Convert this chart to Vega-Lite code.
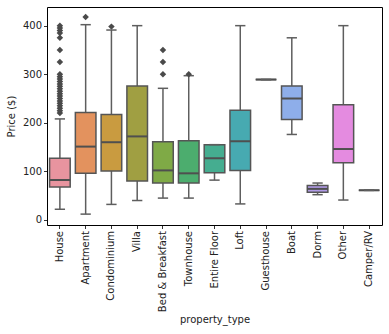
{
  "$schema": "https://vega.github.io/schema/vega-lite/v6.json",
  "width": 335,
  "height": 218,
  "autosize": {"type": "none"},
  "padding": {"left": 47, "top": 7, "right": 7, "bottom": 109},
  "background": "white",
  "config": {
    "view": {"stroke": "#000000", "strokeWidth": 1},
    "axis": {
      "labelFont": "DejaVu Sans", "labelFontSize": 10, "labelColor": "#222222",
      "titleFont": "DejaVu Sans", "titleFontSize": 10, "titleFontWeight": "normal", "titleColor": "#222222",
      "domain": false, "grid": false, "tickColor": "#000000", "tickSize": 3.5, "tickWidth": 0.8, "labelPadding": 2
    }
  },
  "datasets": {
    "boxes": [
      {"property_type": "House", "lower": 22, "q1": 68, "median": 82, "q3": 127, "upper": 208},
      {"property_type": "Apartment", "lower": 12, "q1": 96, "median": 151, "q3": 221, "upper": 402},
      {"property_type": "Condominium", "lower": 32, "q1": 101, "median": 160, "q3": 217, "upper": 391},
      {"property_type": "Villa", "lower": 40, "q1": 80, "median": 172, "q3": 276, "upper": 400},
      {"property_type": "Bed & Breakfast", "lower": 45, "q1": 76, "median": 102, "q3": 161, "upper": 271},
      {"property_type": "Townhouse", "lower": 45, "q1": 76, "median": 96, "q3": 163, "upper": 297},
      {"property_type": "Entire Floor", "lower": 82, "q1": 97, "median": 127, "q3": 155, "upper": 155},
      {"property_type": "Loft", "lower": 33, "q1": 102, "median": 162, "q3": 226, "upper": 400},
      {"property_type": "Guesthouse", "lower": 289, "q1": 289, "median": 289, "q3": 289, "upper": 289},
      {"property_type": "Boat", "lower": 176, "q1": 207, "median": 250, "q3": 276, "upper": 375},
      {"property_type": "Dorm", "lower": 52, "q1": 57, "median": 64, "q3": 71, "upper": 76},
      {"property_type": "Other", "lower": 41, "q1": 118, "median": 146, "q3": 237, "upper": 400},
      {"property_type": "Camper/RV", "lower": 61, "q1": 61, "median": 61, "q3": 61, "upper": 61}
    ],
    "outliers": [
      {"property_type": "House", "price": 220},
      {"property_type": "House", "price": 225},
      {"property_type": "House", "price": 230},
      {"property_type": "House", "price": 235},
      {"property_type": "House", "price": 240},
      {"property_type": "House", "price": 245},
      {"property_type": "House", "price": 250},
      {"property_type": "House", "price": 255},
      {"property_type": "House", "price": 260},
      {"property_type": "House", "price": 265},
      {"property_type": "House", "price": 270},
      {"property_type": "House", "price": 275},
      {"property_type": "House", "price": 280},
      {"property_type": "House", "price": 285},
      {"property_type": "House", "price": 290},
      {"property_type": "House", "price": 295},
      {"property_type": "House", "price": 300},
      {"property_type": "House", "price": 325},
      {"property_type": "House", "price": 350},
      {"property_type": "House", "price": 375},
      {"property_type": "House", "price": 385},
      {"property_type": "House", "price": 390},
      {"property_type": "House", "price": 395},
      {"property_type": "House", "price": 400},
      {"property_type": "Apartment", "price": 418},
      {"property_type": "Condominium", "price": 398},
      {"property_type": "Bed & Breakfast", "price": 300},
      {"property_type": "Bed & Breakfast", "price": 325},
      {"property_type": "Bed & Breakfast", "price": 350},
      {"property_type": "Townhouse", "price": 300}
    ]
  },
  "encoding": {
    "x": {
      "field": "property_type", "type": "nominal", "title": "property_type",
      "sort": ["House", "Apartment", "Condominium", "Villa", "Bed & Breakfast", "Townhouse", "Entire Floor", "Loft", "Guesthouse", "Boat", "Dorm", "Other", "Camper/RV"],
      "scale": {"paddingInner": 0, "paddingOuter": 0},
      "axis": {"labelAngle": -90, "titleY": 89, "titlePadding": 4}
    }
  },
  "layer": [
    {
      "data": {"name": "boxes"},
      "mark": {"type": "rule", "color": "#5e5e5e", "strokeWidth": 1.5},
      "encoding": {
        "y": {"field": "lower", "type": "quantitative", "title": "Price ($)",
          "scale": {"domain": [-10.4, 438.4], "nice": false, "zero": false},
          "axis": {"values": [0, 50, 100, 150, 200, 250, 300, 350, 400], "titlePadding": 6}},
        "y2": {"field": "upper"}
      }
    },
    {
      "data": {"name": "boxes"},
      "mark": {"type": "bar", "size": 20.6, "stroke": "#555555", "strokeWidth": 1.5},
      "encoding": {
        "y": {"field": "q1", "type": "quantitative"},
        "y2": {"field": "q3"},
        "color": {
          "field": "property_type", "type": "nominal", "legend": null,
          "scale": {
            "domain": ["House", "Apartment", "Condominium", "Villa", "Bed & Breakfast", "Townhouse", "Entire Floor", "Loft", "Guesthouse", "Boat", "Dorm", "Other", "Camper/RV"],
            "range": ["#e8949f", "#e3925e", "#c99b40", "#a09f42", "#7faa46", "#4cad6e", "#45ad90", "#47aab1", "#4aa8cc", "#8eaeea", "#b09ae6", "#e48be0", "#e891bf"]
          }
        }
      }
    },
    {
      "data": {"name": "boxes"},
      "mark": {"type": "tick", "size": 20.6, "thickness": 2, "color": "#4f4f4f", "opacity": 1},
      "encoding": {"y": {"field": "median", "type": "quantitative"}}
    },
    {
      "data": {"name": "boxes"},
      "mark": {"type": "tick", "size": 10.3, "thickness": 1.5, "color": "#5e5e5e", "opacity": 1},
      "encoding": {"y": {"field": "lower", "type": "quantitative"}}
    },
    {
      "data": {"name": "boxes"},
      "mark": {"type": "tick", "size": 10.3, "thickness": 1.5, "color": "#5e5e5e", "opacity": 1},
      "encoding": {"y": {"field": "upper", "type": "quantitative"}}
    },
    {
      "data": {"name": "outliers"},
      "mark": {"type": "point", "shape": "diamond", "filled": true, "size": 42, "color": "#4a4a4a", "opacity": 1},
      "encoding": {"y": {"field": "price", "type": "quantitative"}}
    }
  ]
}
